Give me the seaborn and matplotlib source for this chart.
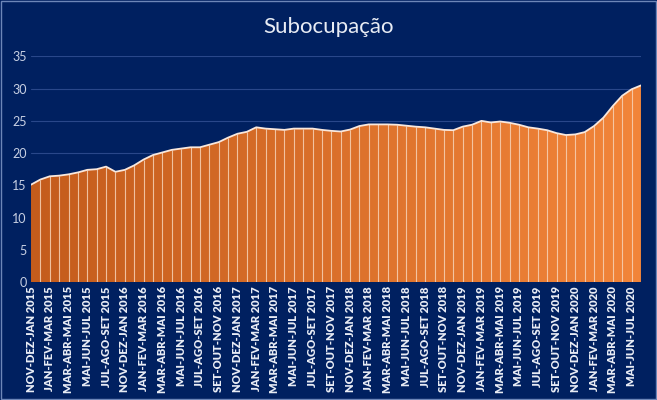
#!/usr/bin/env python3
"""Subocupação area chart (rolling quarters, 2015-2020)."""

import matplotlib

matplotlib.use("Agg")
import matplotlib.pyplot as plt
import numpy as np
import pandas as pd
import seaborn as sns
from matplotlib.colors import LinearSegmentedColormap
from matplotlib.patches import Rectangle

TITLE = "Subocupação"

categories = [
    "NOV-DEZ-JAN 2015", "DEZ-JAN-FEV 2015", "JAN-FEV-MAR 2015", "FEV-MAR-ABR 2015",
    "MAR-ABR-MAI 2015", "ABR-MAI-JUN 2015", "MAI-JUN-JUL 2015", "JUN-JUL-AGO 2015",
    "JUL-AGO-SET 2015", "AGO-SET-OUT 2015",
    "NOV-DEZ-JAN 2016", "DEZ-JAN-FEV 2016", "JAN-FEV-MAR 2016", "FEV-MAR-ABR 2016",
    "MAR-ABR-MAI 2016", "ABR-MAI-JUN 2016", "MAI-JUN-JUL 2016", "JUN-JUL-AGO 2016",
    "JUL-AGO-SET 2016", "AGO-SET-OUT 2016", "SET-OUT-NOV 2016", "OUT-NOV-DEZ 2016",
    "NOV-DEZ-JAN 2017", "DEZ-JAN-FEV 2017", "JAN-FEV-MAR 2017", "FEV-MAR-ABR 2017",
    "MAR-ABR-MAI 2017", "ABR-MAI-JUN 2017", "MAI-JUN-JUL 2017", "JUN-JUL-AGO 2017",
    "JUL-AGO-SET 2017", "AGO-SET-OUT 2017", "SET-OUT-NOV 2017", "OUT-NOV-DEZ 2017",
    "NOV-DEZ-JAN 2018", "DEZ-JAN-FEV 2018", "JAN-FEV-MAR 2018", "FEV-MAR-ABR 2018",
    "MAR-ABR-MAI 2018", "ABR-MAI-JUN 2018", "MAI-JUN-JUL 2018", "JUN-JUL-AGO 2018",
    "JUL-AGO-SET 2018", "AGO-SET-OUT 2018", "SET-OUT-NOV 2018", "OUT-NOV-DEZ 2018",
    "NOV-DEZ-JAN 2019", "DEZ-JAN-FEV 2019", "JAN-FEV-MAR 2019", "FEV-MAR-ABR 2019",
    "MAR-ABR-MAI 2019", "ABR-MAI-JUN 2019", "MAI-JUN-JUL 2019", "JUN-JUL-AGO 2019",
    "JUL-AGO-SET 2019", "AGO-SET-OUT 2019", "SET-OUT-NOV 2019", "OUT-NOV-DEZ 2019",
    "NOV-DEZ-JAN 2020", "DEZ-JAN-FEV 2020", "JAN-FEV-MAR 2020", "FEV-MAR-ABR 2020",
    "MAR-ABR-MAI 2020", "ABR-MAI-JUN 2020", "MAI-JUN-JUL 2020", "JUN-JUL-AGO 2020",
]

values = [
    15.1, 15.9, 16.4, 16.5, 16.7, 17.0, 17.4, 17.5, 17.9, 17.1,
    17.4, 18.1, 19.0, 19.7, 20.1, 20.5, 20.7, 20.9, 20.9, 21.3, 21.7, 22.4,
    23.0, 23.3, 24.0, 23.8, 23.7, 23.6, 23.8, 23.8, 23.8, 23.6, 23.45, 23.35,
    23.65, 24.2, 24.45, 24.45, 24.45, 24.4, 24.25, 24.1, 24.0, 23.8, 23.6, 23.55,
    24.1, 24.4, 25.0, 24.75, 24.9, 24.7, 24.4, 24.0, 23.8, 23.55, 23.1, 22.8,
    22.9, 23.25, 24.2, 25.5, 27.3, 28.9, 29.9, 30.5,
]

y_ticks = [0, 5, 10, 15, 20, 25, 30, 35]

BG = "#002060"
GRID = "#29478a"
TICK_Y = "#c8d0e3"
TICK_X = "#e8ecf5"
ORANGE_LEFT = "#c45c1c"
ORANGE_RIGHT = "#f2853a"


def main() -> None:
    sns.set_theme(style="dark")
    plt.rcParams["font.family"] = ["Lato", "DejaVu Sans"]

    df = pd.DataFrame({"pos": np.arange(len(categories)), "cat": categories, "val": values})

    fig = plt.figure(figsize=(6.57, 4.0), dpi=100, facecolor=BG)
    fig.patches.append(
        Rectangle((0.002, 0.002), 0.996, 0.995, transform=fig.transFigure,
                  fill=False, edgecolor="#6d86b8", linewidth=1.0)
    )
    ax = fig.add_axes([0.0472, 0.295, 0.9284, 0.564])
    ax.set_facecolor(BG)

    # gradient fill clipped to the area under the curve
    fill = ax.fill_between(df["pos"], 0, df["val"], facecolor="none", edgecolor="none")
    cmap = LinearSegmentedColormap.from_list("org", [ORANGE_LEFT, ORANGE_RIGHT])
    grad = np.linspace(0, 1, 256).reshape(1, -1)
    img = ax.imshow(grad, cmap=cmap, aspect="auto",
                    extent=[df["pos"].min(), df["pos"].max(), 0, 35], zorder=2)
    img.set_clip_path(fill.get_paths()[0], transform=ax.transData)

    # drop lines at every point
    ax.vlines(df["pos"][1:-1], 0, df["val"][1:-1], colors="#f7d2b6", linewidth=0.8,
              alpha=0.85, zorder=3)
    sns.lineplot(data=df, x="pos", y="val", color="#f9e8dd", linewidth=1.3,
                 ax=ax, zorder=4)

    ax.set_xlim(df["pos"].min(), df["pos"].max())
    ax.set_ylim(0, 35)
    ax.set_yticks(y_ticks)
    ax.set_yticklabels([str(t) for t in y_ticks], color=TICK_Y, fontsize=9)
    ax.set_xticks(df["pos"][::2])
    ax.set_xticklabels(df["cat"][::2], rotation=90, color=TICK_X, fontsize=8,
                       fontweight="heavy")
    ax.tick_params(axis="both", length=0, pad=3)
    ax.grid(False)
    ax.yaxis.grid(True, color=GRID, linewidth=0.8)
    ax.set_axisbelow(True)
    for s in ax.spines.values():
        s.set_visible(False)
    ax.set_xlabel("")
    ax.set_ylabel("")

    fig.text(0.5, 0.932, TITLE, ha="center", va="center", color="#e8ecf4", fontsize=16)
    fig.savefig("out.png", dpi=100, facecolor=BG)
    plt.close(fig)


if __name__ == "__main__":
    main()
